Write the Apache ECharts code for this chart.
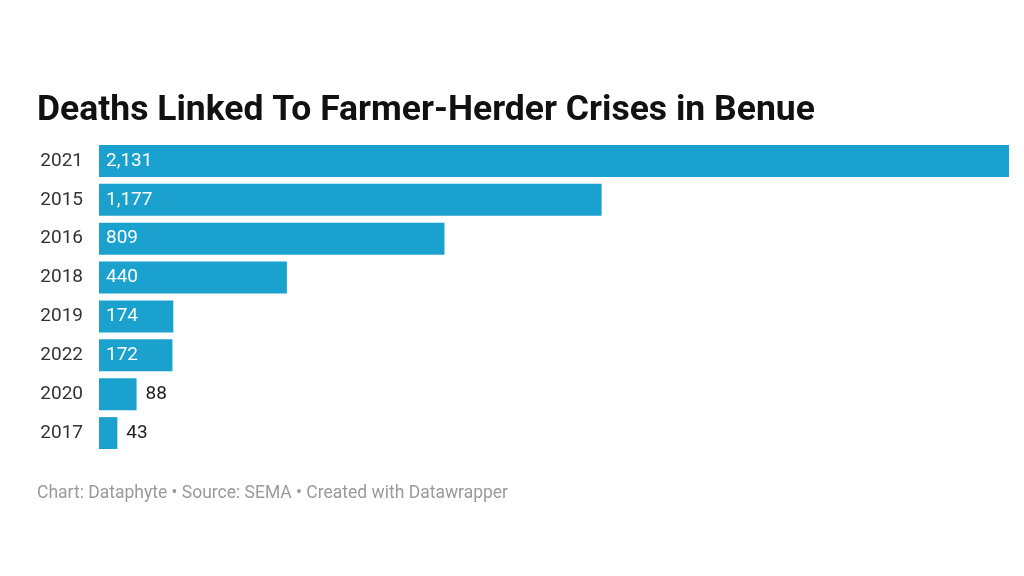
<!DOCTYPE html>
<html><head><meta charset="utf-8">
<script src="https://cdn.jsdelivr.net/npm/echarts@6/dist/echarts.min.js"></script>
<style>html,body{margin:0;padding:0;background:#fff}#c{width:1024px;height:576px}</style>
</head><body><div id="c"></div>
<script>
const years = ['2021','2015','2016','2018','2019','2022','2020','2017'];
const deaths = [2131, 1177, 809, 440, 174, 172, 88, 43];
const insideThreshold = 150;

const chart = echarts.init(document.getElementById('c'));
chart.setOption({
  animation: false,
  backgroundColor: '#ffffff',
  title: [{
    text: 'Deaths Linked To Farmer-Herder Crises in Benue',
    left: 37, top: 93, padding: 0,
    textStyle: {fontFamily: 'Roboto', fontWeight: 'bold', fontSize: 35.5, color: '#111'}
  }, {
    text: 'Chart: Dataphyte • Source: SEMA • Created with Datawrapper',
    left: 37, top: 485, padding: 0,
    textStyle: {fontFamily: 'Roboto', fontWeight: 'normal', fontSize: 17.5, color: '#9a9a9a'}
  }],
  grid: {left: 99, right: 15, top: 141.5, height: 311, containLabel: false},
  xAxis: {type: 'value', min: 0, max: 2131, show: false},
  yAxis: {
    type: 'category', data: years, inverse: true,
    axisLine: {show: false}, axisTick: {show: false},
    axisLabel: {fontFamily: 'Roboto', fontSize: 19, color: '#333', margin: 16}
  },
  series: [{
    type: 'bar',
    barCategoryGap: '18%',
    itemStyle: {color: '#1aa1ce'},
    data: deaths.map(v => ({
      value: v,
      label: v > insideThreshold
        ? {show: true, position: 'insideLeft', distance: 7, color: '#fff'}
        : {show: true, position: 'right', distance: 9, color: '#222'}
    })),
    label: {
      fontFamily: 'Roboto', fontSize: 19,
      formatter: p => p.value.toLocaleString('en-US')
    }
  }]
});
</script></body></html>
